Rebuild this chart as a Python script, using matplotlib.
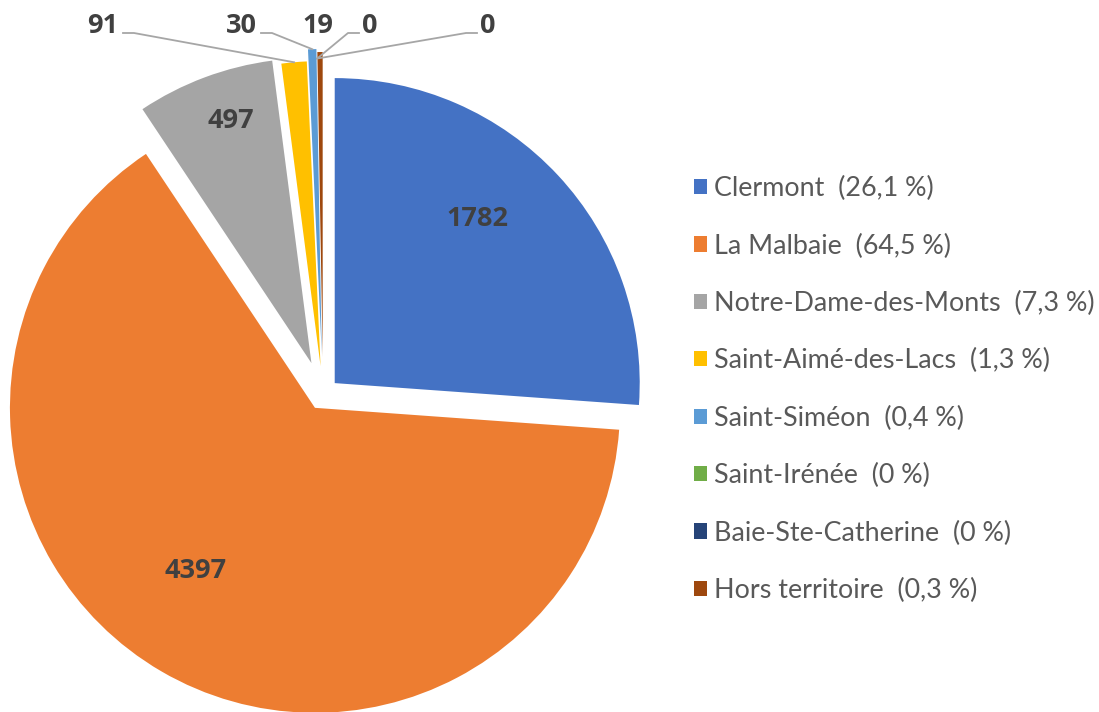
import numpy as np
import matplotlib.pyplot as plt
from matplotlib.patches import Patch

plt.rcParams['font.family'] = ['Lato', 'DejaVu Sans']

# data
municipalities = ['Clermont', 'La Malbaie', 'Notre-Dame-des-Monts', 'Saint-Aimé-des-Lacs',
                  'Saint-Siméon', 'Saint-Irénée', 'Baie-Ste-Catherine', 'Hors territoire']
counts = [1782, 4397, 497, 91, 30, 0, 0, 19]
colors = ['#4472C4', '#ED7D31', '#A5A5A5', '#FFC000', '#5B9BD5', '#70AD47', '#264478', '#9E480E']
explode_px = [16, 16, 33, 28, 40, 0, 0, 37]  # slice offsets, in pixels

W, H = 1099, 712
fig = plt.figure(figsize=(W / 100, H / 100), dpi=100)
ax = fig.add_axes([0, 0, 1, 1])

cx, cy, R = 323, H - 394, 305
wedges, _ = ax.pie(counts, colors=colors, explode=explode_px, startangle=90, counterclock=False,
                   radius=R, center=(cx, cy), frame=True, wedgeprops=dict(linewidth=0))
ax.set_xlim(0, W)
ax.set_ylim(0, H)
ax.set_aspect('equal')
ax.axis('off')

bold_font = dict(family=['Open Sans', 'DejaVu Sans'], fontweight='bold', color='#404040', fontsize=19.5)


def wedge_point(w, frac, angle=None):
    # point in a wedge at frac of its radius, measured from the wedge's own center
    a = np.deg2rad((w.theta1 + w.theta2) / 2 if angle is None else angle)
    x0, y0 = w.center
    return x0 + frac * w.r * np.cos(a), y0 + frac * w.r * np.sin(a)


# big value labels inside slices
inside = {0: (0.713, 6), 1: (0.664, -6), 2: (0.836, -2)}
for i, (frac, da) in inside.items():
    w = wedges[i]
    a = (w.theta1 + w.theta2) / 2 + da
    x, y = wedge_point(w, frac, a)
    ax.text(x, y, str(counts[i]), ha='center', va='center', **bold_font)

# small slices: labels at the top with leader lines
top_labels = {3: (103, True), 4: (241, True), 7: (318, False), 5: (370, True), 6: (488, True)}
for i, (xt, leader) in top_labels.items():
    yt = H - 26
    ax.text(xt, yt, str(counts[i]), ha='center', va='center', **bold_font)
    if leader:
        w = wedges[i]
        ex, ey = wedge_point(w, 1.0 if counts[i] else 1.1)
        if xt < cx:
            xs = xt + 20
            ax.plot([xs, xs + 11, ex], [H - 33, H - 33, ey], color='#A6A6A6', lw=1.3)
        else:
            xs = xt - 11
            ax.plot([xs, xs - 11, ex], [H - 33, H - 33, ey], color='#A6A6A6', lw=1.3)

# legend
total = sum(counts)
labels = []
for name, c in zip(municipalities, counts):
    p = 100 * c / total
    ptxt = '0' if c == 0 else f'{p:.1f}'.replace('.', ',')
    labels.append(f'{name}  ({ptxt} %)')
handles = [Patch(facecolor=col, edgecolor='none') for col in colors]
leg = fig.legend(handles, labels, loc='upper left', bbox_to_anchor=(694 / W, 1 - 176 / H),
                 frameon=False, fontsize=19.4, labelcolor='#595959', handlelength=0.5,
                 handleheight=0.5, handletextpad=0.25, labelspacing=1.2, borderaxespad=0,
                 borderpad=0)

fig.savefig('out.png', dpi=100)
